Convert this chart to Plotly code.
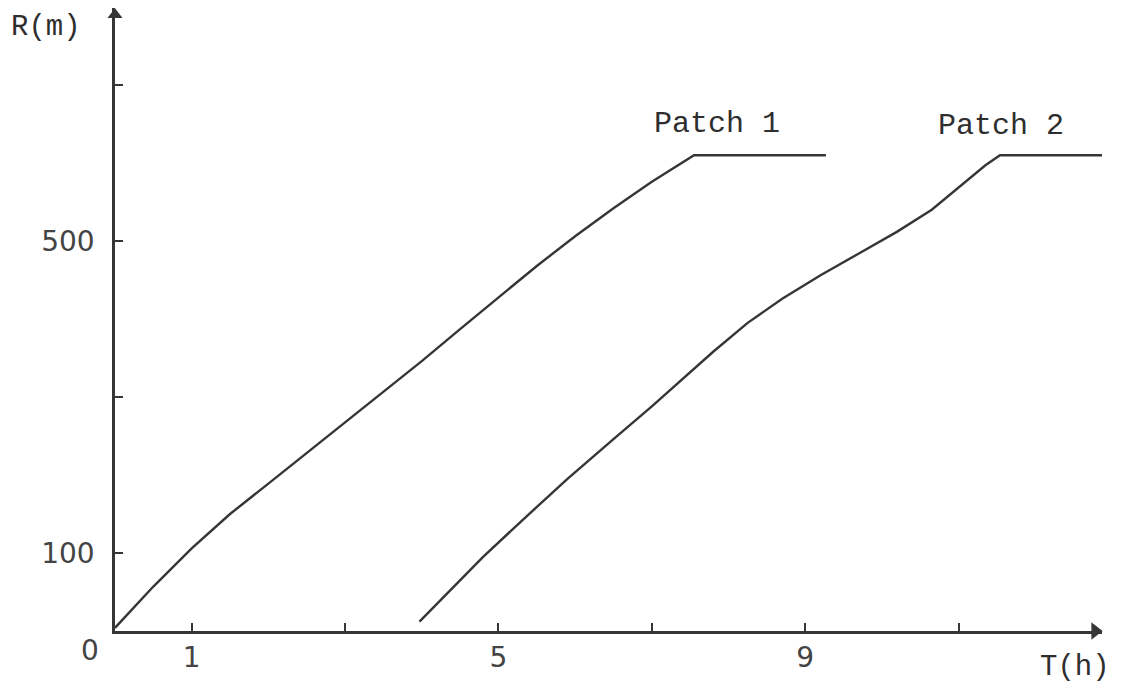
import plotly.graph_objects as go

# ---- data ----
patch1_t = [0.0, 0.5, 1.0, 1.5, 2.0, 2.5, 3.0, 3.5, 4.0, 4.5, 5.0, 5.5, 6.0, 6.5, 7.0, 7.3, 7.55, 9.27]
patch1_r = [4, 57, 106, 150, 189, 228, 267, 306, 346, 387, 428, 468, 506, 542, 576, 595, 610, 610]

patch2_t = [3.97, 4.4, 4.8, 5.3, 5.9, 6.5, 7.0, 7.8, 8.25, 8.7, 9.2, 9.7, 10.2, 10.65, 11.1, 11.35, 11.54, 12.92]
patch2_r = [12, 55, 95, 141, 195, 246, 288, 358, 395, 426, 456, 484, 512, 540, 576, 597, 610, 610]

x_tickvals = [1, 3, 5, 7, 9, 11]
x_ticktext = ["1", "", "5", "", "9", ""]
y_tickvals = [100, 300, 500, 700]
y_ticktext = ["100", "", "500", ""]

series_labels = ["Patch 1", "Patch 2"]
label_pos_t = [7.855, 11.55]
label_pos_r = [650, 647]

X_MAX = 12.87
Y_MAX = 798.7

INK = "#363636"
TXT = "#2e2e2e"
MONO = "Liberation Mono, Courier New, monospace"
NUM = "DejaVu Sans, sans-serif"
NUM_COLOR = "#444444"

fig = go.Figure()
for t, r, name in zip([patch1_t, patch2_t], [patch1_r, patch2_r], series_labels):
    fig.add_trace(go.Scatter(x=t, y=r, mode="lines", name=name,
                             line=dict(color=INK, width=2.4)))

# axis arrowheads
fig.add_trace(go.Scatter(x=[0], y=[790], mode="markers", cliponaxis=False,
                         marker=dict(symbol="triangle-up", size=13, color=INK), hoverinfo="skip"))
fig.add_trace(go.Scatter(x=[12.78], y=[0], mode="markers", cliponaxis=False,
                         marker=dict(symbol="triangle-right", size=15, color=INK), hoverinfo="skip"))

for txt, tx, ty in zip(series_labels, label_pos_t, label_pos_r):
    fig.add_annotation(x=tx, y=ty, text=txt, showarrow=False,
                       xanchor="center", yanchor="middle",
                       font=dict(family=MONO, size=30, color=TXT))

fig.add_annotation(xref="paper", yref="paper", x=-0.0699, y=0.968, text="R(m)",
                   xanchor="center", yanchor="middle",
                   showarrow=False, font=dict(family=MONO, size=29, color=TXT))
fig.add_annotation(xref="paper", yref="paper", x=0.9726, y=-0.0578, text="T(h)",
                   xanchor="center", yanchor="middle",
                   showarrow=False, font=dict(family=MONO, size=29, color=TXT))
fig.add_annotation(xref="paper", yref="paper", x=-0.0253, y=-0.0321, text="0",
                   xanchor="center", yanchor="middle",
                   showarrow=False, font=dict(family=NUM, size=28, color=NUM_COLOR))

fig.update_layout(
    width=1121, height=688,
    margin=dict(l=115, r=19, t=8, b=57),
    paper_bgcolor="white", plot_bgcolor="white",
    showlegend=False,
    xaxis=dict(range=[0, X_MAX], showgrid=False, zeroline=False,
               showline=True, linecolor=INK, linewidth=2.5,
               ticks="inside", ticklen=8, tickwidth=2, tickcolor=INK,
               tickvals=x_tickvals, ticktext=x_ticktext,
               tickfont=dict(family=NUM, size=28, color=NUM_COLOR),
               ticklabelstandoff=0),
    yaxis=dict(range=[0, Y_MAX], showgrid=False, zeroline=False,
               showline=True, linecolor=INK, linewidth=2.5,
               ticks="inside", ticklen=8, tickwidth=2, tickcolor=INK,
               tickvals=y_tickvals, ticktext=y_ticktext,
               tickfont=dict(family=NUM, size=28, color=NUM_COLOR),
               ticklabelstandoff=12),
)

fig.write_html("out.html")
